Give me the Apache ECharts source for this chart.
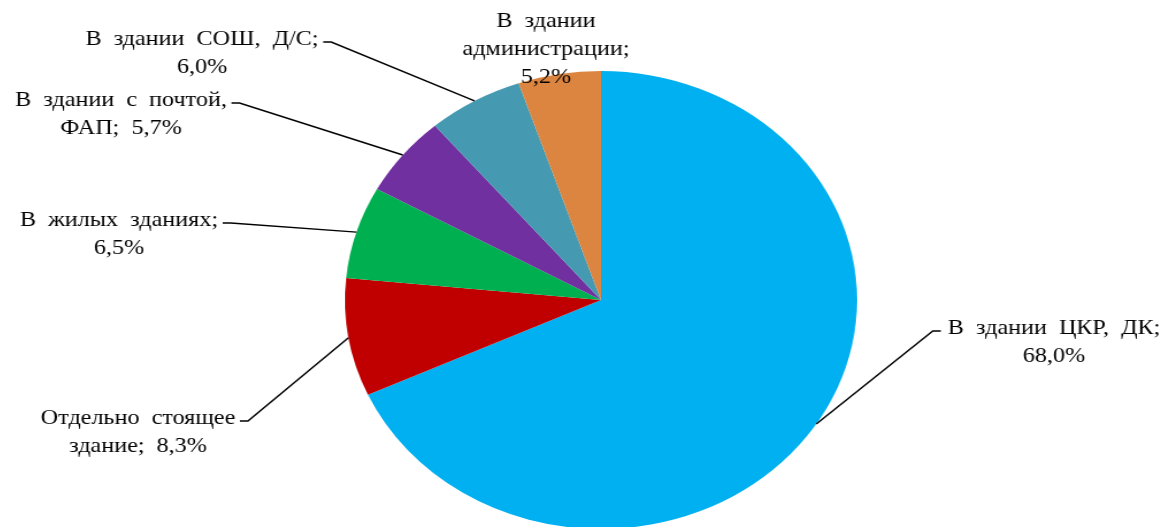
<!DOCTYPE html>
<html>
<head>
<meta charset="utf-8">
<script src="https://cdn.jsdelivr.net/npm/echarts@6/dist/echarts.min.js"></script>
<style>
html, body { margin: 0; padding: 0; background: #fff; }
#wrap { position: relative; width: 1163px; height: 527px; overflow: hidden; }
#pie, #labels { position: absolute; left: 0; top: 0; width: 1163px; height: 527px; }
/* the original pie is stretched into an ellipse, its text a bit less */
#pie { transform: scaleX(1.118); transform-origin: 601px 300px; }
#labels { transform: scaleX(1.15); transform-origin: 601px 300px; }
</style>
</head>
<body>
<div id="wrap">
  <div id="pie"></div>
  <div id="labels"></div>
</div>
<script>
// data
const categories = ['В здании ЦКР, ДК', 'Отдельно стоящее здание', 'В жилых зданиях', 'В здании с почтой, ФАП', 'В здании СОШ, Д/С', 'В здании администрации']
const shares = [68.0, 8.3, 6.5, 5.7, 6.0, 5.2]

// styles
const colors = ['#00B0F0', '#C00000', '#00B050', '#7030A0', '#4599B0', '#DB8541']
const CX = 601
const CY = 300
const R = 229
const SX = 1.118 // pie stretch
const K = 1.15 // label layer stretch
// where each label breaks (after n words)
const wrapAfter = [[4], [2], [3], [4], [4], [2, 3]]
// label block centres on screen
const labelPos = [[1054, 342], [138, 432], [119, 234], [121, 114], [202, 53], [546, 49]]
const LH = 28

function labelText(i) {
  const pct = shares[i].toFixed(1).replace('.', ',') + '%'
  const words = (categories[i] + ';').split(' ').concat([pct])
  const lines = []
  let start = 0
  wrapAfter[i].concat([words.length]).forEach(end => {
    lines.push(words.slice(start, end).join('  '))
    start = end
  })
  return lines.join('\n')
}

const pieData = categories.map((name, i) => ({ name, value: shares[i] }))

const pieChart = echarts.init(document.getElementById('pie'))
pieChart.setOption({
  animation: false,
  color: colors,
  series: [{
    type: 'pie',
    center: [CX, CY],
    radius: R,
    startAngle: 90,
    clockwise: true,
    silent: true,
    label: { show: false },
    labelLine: { show: false },
    itemStyle: { borderWidth: 0 },
    data: pieData
  }]
})

const labelChart = echarts.init(document.getElementById('labels'))
labelChart.setOption({
  animation: false,
  series: [{
    type: 'pie',
    center: [CX, CY],
    radius: R,
    startAngle: 90,
    clockwise: true,
    silent: true,
    avoidLabelOverlap: false,
    itemStyle: { color: 'rgba(0,0,0,0)' },
    label: {
      show: true,
      position: 'outside',
      fontFamily: 'Liberation Serif',
      fontSize: 21,
      lineHeight: LH,
      color: '#000',
      formatter: p => labelText(p.dataIndex)
    },
    labelLine: {
      show: true,
      length: 20,
      length2: 10,
      lineStyle: { color: '#000', width: 1.5 }
    },
    labelLayout: params => {
      const i = params.dataIndex
      // screen -> stretched layer coords
      const x = CX + (labelPos[i][0] - CX) / K
      const y = labelPos[i][1]
      const out = { x, y, align: 'center', verticalAlign: 'middle' }
      const pts = params.labelLinePoints
      if (i === 5 || !pts) return out
      // edge point of the stretched pie at the slice's mid angle
      const p0 = [CX + (pts[0][0] - CX) * SX / K, pts[0][1]]
      const nLines = labelText(i).split('\n').length
      const firstY = y - (nLines - 1) * LH / 2 + 3
      const w = params.labelRect.width
      const right = p0[0] > CX
      const edge = right ? x - w / 2 - 6 : x + w / 2 + 4
      const p2 = [edge, firstY]
      const p1 = [right ? edge - 7 : edge + 7, firstY]
      out.labelLinePoints = [p0, p1, p2]
      return out
    },
    data: pieData.map((d, i) => i === 5 ? Object.assign({}, d, { labelLine: { show: false } }) : d)
  }]
})
</script>
</body>
</html>
